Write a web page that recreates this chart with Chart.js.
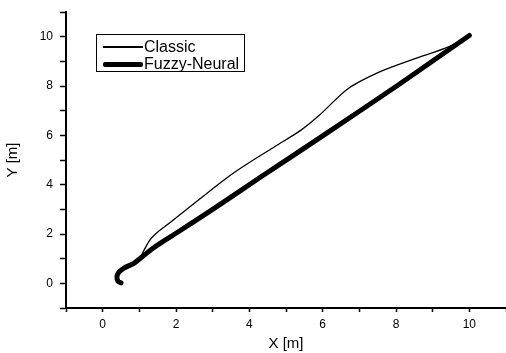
<!DOCTYPE html>
<html>
<head>
<meta charset="utf-8">
<script src="https://cdn.jsdelivr.net/npm/chart.js@4.4.1/dist/chart.umd.min.js"></script>
<style>
  html, body { margin: 0; padding: 0; background: #fff; }
  #wrap { position: relative; width: 506px; height: 353px; }
  #legend {
    position: absolute; left: 96px; top: 34px; width: 147px; height: 36px;
    border: 1px solid #000; background: #fff;
    font-family: "Liberation Sans", Arial, sans-serif; font-size: 16px; color: #000;
  }
  .row { position: absolute; left: 0; height: 18px; display: flex; align-items: center; }
  .swatch { width: 40px; margin-left: 6px; margin-right: 1px; background: #000; }
</style>
</head>
<body>
<div id="wrap">
  <canvas id="chart" width="506" height="353"></canvas>
  <div id="legend">
    <div class="row" style="top:3px"><div class="swatch" style="height:1.5px"></div><span>Classic</span></div>
    <div class="row" style="top:20px"><div class="swatch" style="height:5px;border-radius:2px"></div><span>Fuzzy-Neural</span></div>
  </div>
</div>
<script>
// ===== Data =====
const seriesNames = ['Classic', 'Fuzzy-Neural'];

const classicX = [0.50, 0.42, 0.39, 0.44, 0.57, 0.85, 1.03, 1.12, 1.30, 1.55, 1.85, 2.62, 3.50, 4.00, 4.70, 5.40, 5.90, 6.70, 7.60, 8.50, 9.45, 10.0];
const classicY = [0.02, 0.08, 0.27, 0.45, 0.61, 0.81, 1.05, 1.32, 1.78, 2.14, 2.48, 3.39, 4.40, 4.90, 5.55, 6.20, 6.80, 7.90, 8.60, 9.10, 9.60, 10.05];

const fuzzyX = [0.50, 0.42, 0.39, 0.44, 0.57, 0.85, 1.03, 1.40, 2.00, 3.00, 4.30, 6.00, 8.00, 10.0];
const fuzzyY = [0.02, 0.08, 0.27, 0.45, 0.61, 0.81, 1.02, 1.45, 2.03, 3.00, 4.30, 5.98, 7.98, 10.05];

const xTickLabels = ['0', '2', '4', '6', '8', '10'];
const yTickLabels = ['0', '2', '4', '6', '8', '10'];

const toPoints = (xs, ys) => xs.map((x, i) => ({ x: x, y: ys[i] }));

const font = { family: '"Liberation Sans", Arial, sans-serif', size: 12 };

new Chart(document.getElementById('chart'), {
    type: 'scatter',
    data: {
        datasets: [{
            label: seriesNames[0],
            data: toPoints(classicX, classicY),
            showLine: true,
            borderColor: '#000',
            borderWidth: 1.3,
            pointRadius: 0,
            tension: 0.3
        }, {
            label: seriesNames[1],
            data: toPoints(fuzzyX, fuzzyY),
            showLine: true,
            borderColor: '#000',
            borderWidth: 5,
            borderCapStyle: 'round',
            pointRadius: 0,
            tension: 0.2
        }]
    },
    options: {
        responsive: false,
        animation: false,
        layout: { padding: { top: 12, right: 0, left: 0, bottom: 0 } },
        plugins: {
            legend: { display: false },
            tooltip: { enabled: false }
        },
        scales: {
            x: {
                type: 'linear',
                min: -1,
                max: 11,
                afterFit: s => { s.height = 45; s.paddingRight = 0; s.paddingLeft = 0; },
                border: { display: true, color: '#000', width: 2 },
                grid: { drawOnChartArea: false, tickLength: 4, tickColor: '#000', tickWidth: 1.5 },
                ticks: {
                    stepSize: 1,
                    padding: 5,
                    color: '#000',
                    font: font,
                    callback: v => xTickLabels.includes(String(v)) ? String(v) : ''
                },
                title: {
                    display: true,
                    text: 'X [m]',
                    color: '#000',
                    font: { family: font.family, size: 15 },
                    padding: { top: 0, bottom: 0 }
                }
            },
            y: {
                type: 'linear',
                min: -1,
                max: 11,
                afterFit: s => { s.width = 66; s.paddingTop = 0; s.paddingBottom = 0; },
                border: { display: true, color: '#000', width: 2 },
                grid: { drawOnChartArea: false, tickLength: 6, tickColor: '#000', tickWidth: 1.5 },
                ticks: {
                    stepSize: 1,
                    padding: 7,
                    color: '#000',
                    font: font,
                    callback: v => yTickLabels.includes(String(v)) ? String(v) : ''
                },
                title: {
                    display: true,
                    text: 'Y [m]',
                    color: '#000',
                    font: { family: font.family, size: 15 },
                    padding: { top: 4, bottom: 0 }
                }
            }
        }
    }
});
</script>
</body>
</html>
